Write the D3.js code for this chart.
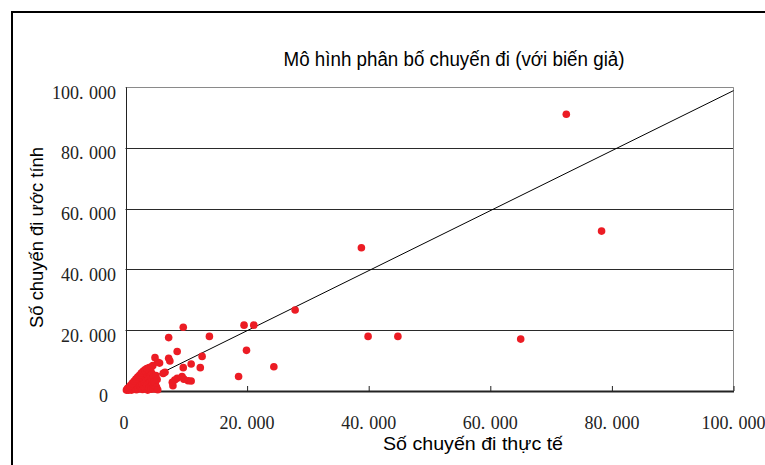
<!DOCTYPE html>
<html>
<head>
<meta charset="utf-8">
<script src="https://cdn.jsdelivr.net/npm/d3@7"></script>
<style>
  html, body { margin: 0; padding: 0; background: #fff; }
  svg { display: block; }
</style>
</head>
<body>
<svg id="chart" width="765" height="465"></svg>
<script>
// Chart text
const chartTitle = "Mô hình phân bố chuyến đi (với biến giả)";
const xTitle = "Số chuyến đi thực tế";
const yTitle = "Số chuyến đi ước tính";

// Axis ticks (same for both axes)
const tickValues = [0, 20000, 40000, 60000, 80000, 100000];

// Reference line: estimated = fitted slope × actual
const refLineX = [0, 100000];
const refLineY = [0, 98900];

// Observed trips (actual) and model estimates, one pair per zone pair
const actualTrips = [
  72500, 78300, 38800, 65000, 39900, 44800, 27900, 21100, 19500, 19900,
  18600, 24400, 9500, 13800, 7100,
  8500, 12600, 10800, 12300, 7100, 7300, 4850, 5300, 6500, 9500,
  9300, 8500, 10300, 7800, 8100, 9600, 10800, 6200, 5600, 7700, 4500,
  150, 300, 450, 600, 700, 850, 950, 1000, 1150, 1250,
  1300, 1450, 1550, 1600, 1700, 1800, 1850, 1950, 2050, 2100,
  2200, 2300, 2350, 2450, 2500, 2600, 2650, 2750, 2800, 2900,
  2950, 3000, 3100, 3150, 3250, 3300, 3400, 3450, 3500, 3600,
  3650, 3700, 3800, 3850, 3900, 4000, 4050, 4150, 4200, 4250,
  4300, 4400, 4450, 4550, 4600, 4700, 4750, 4850, 4900, 5000,
  5100, 5200, 5300, 400, 800, 1100, 1400, 1700, 2000, 2300,
  2600, 2900, 3200, 3500, 3900, 4300
];
const estimatedTrips = [
  91100, 52600, 47100, 17000, 17900, 17900, 26600, 21600, 21600, 13300,
  4700, 7900, 20900, 17900, 17500,
  12900, 11300, 8800, 7600, 10700, 9800, 10900, 9400, 6100, 7600,
  4700, 4100, 3300, 1650, 3500, 3800, 3200, 5700, 9100, 2800, 8300,
  200, 600, 150, 900, 400, 1400, 700, 200, 1900, 1100,
  500, 2400, 1600, 800, 2900, 300, 2100, 3400, 1300, 600,
  3800, 2600, 1700, 4300, 900, 3100, 5000, 2000, 400, 5600,
  3600, 1200, 6200, 2700, 4400, 700, 6700, 3300, 1800, 5400,
  200, 7200, 4000, 2400, 1000, 6300, 3000, 4800, 1500, 500,
  5800, 3600, 2200, 900, 4600, 1700, 3000, 600, 2300, 5000,
  1200, 3700, 300, 900, 1700, 2400, 3100, 3800, 4500, 5100,
  5800, 6400, 6900, 7300, 7600, 7900
];

const svg = d3.select("#chart");

// Outer chart frame
svg.append("path")
  .attr("d", "M12,470V12H770")
  .attr("fill", "none")
  .attr("stroke", "#000")
  .attr("stroke-width", 2);

const x = d3.scaleLinear().domain([0, 100000]).range([125.5, 733.5]);
const y = d3.scaleLinear().domain([0, 100000]).range([390.7, 87.3]);

const locale = d3.formatLocale({ decimal: ",", thousands: ".", grouping: [3], currency: ["", ""] });
const fmt = locale.format(",");

// Writes "20.000" as "20." + spaced "000", like the wide period of the original font
function tickText(sel) {
  sel.each(function (d) {
    const s = fmt(d);
    const t = d3.select(this);
    const i = s.indexOf(".");
    if (i < 0) { t.text(s); return; }
    t.append("tspan").text(s.slice(0, i + 1));
    t.append("tspan").attr("dx", 5.5).text(s.slice(i + 1));
  });
}

// Horizontal gridlines
svg.append("g")
  .selectAll("line")
  .data(tickValues.filter(v => v > 0))
  .join("line")
  .attr("x1", x(0)).attr("x2", x(100000))
  .attr("y1", d => Math.round(y(d)) + 0.5).attr("y2", d => Math.round(y(d)) + 0.5)
  .attr("stroke", d => d === 100000 ? "#8a8a8a" : "#2a2a2a")
  .attr("stroke-width", 1);

// Right edge of plot area
svg.append("line")
  .attr("x1", Math.round(x(100000)) - 0.5).attr("x2", Math.round(x(100000)) - 0.5)
  .attr("y1", y(100000)).attr("y2", y(0))
  .attr("stroke", "#8a8a8a");

// Left axis line (no ticks)
svg.append("line")
  .attr("x1", Math.round(x(0)) + 0.5).attr("x2", Math.round(x(0)) + 0.5)
  .attr("y1", y(100000)).attr("y2", y(0))
  .attr("stroke", "#222");

// Bottom axis with inward ticks
const xAxis = d3.axisBottom(x).tickValues(tickValues.filter(v => v > 0)).tickSizeInner(-5).tickSizeOuter(0).tickFormat("");
const gx = svg.append("g").attr("transform", `translate(0,${Math.round(y(0))})`).call(xAxis);
gx.select(".domain").attr("stroke", "#222").attr("stroke-width", 2);
gx.selectAll(".tick line").attr("stroke", "#222");

// Tick labels
const labelFont = "'Liberation Serif', 'DejaVu Serif', serif";
svg.append("g")
  .selectAll("text")
  .data(tickValues)
  .join("text")
  .attr("x", d => x(d) - (d === 0 ? 1.5 : 0))
  .attr("y", 429)
  .attr("text-anchor", "middle")
  .attr("font-family", labelFont)
  .attr("font-size", 18)
  .attr("fill", "#222")
  .call(tickText);

svg.append("g")
  .selectAll("text")
  .data(tickValues)
  .join("text")
  .attr("x", d => d === 0 ? 108 : 116)
  .attr("y", d => y(d) + 11.5)
  .attr("text-anchor", "end")
  .attr("font-family", labelFont)
  .attr("font-size", 18)
  .attr("fill", "#222")
  .call(tickText);

// Fitted reference line
svg.append("line")
  .attr("x1", x(refLineX[0])).attr("y1", y(refLineY[0]))
  .attr("x2", x(refLineX[1])).attr("y2", y(refLineY[1]))
  .attr("stroke", "#000")
  .attr("stroke-width", 1);

// Points
const points = actualTrips.map((a, i) => ({ a, e: estimatedTrips[i] }));
svg.append("g")
  .selectAll("circle")
  .data(points)
  .join("circle")
  .attr("cx", d => x(d.a))
  .attr("cy", d => y(d.e))
  .attr("r", 3.8)
  .attr("fill", "#ec1c24");

// Titles
const sans = "'Liberation Sans', Arial, sans-serif";
svg.append("text")
  .attr("x", 454).attr("y", 66)
  .attr("text-anchor", "middle")
  .attr("font-family", sans).attr("font-size", 20)
  .attr("textLength", 341).attr("lengthAdjust", "spacingAndGlyphs")
  .attr("fill", "#000")
  .text(chartTitle);

svg.append("text")
  .attr("x", 473).attr("y", 450)
  .attr("text-anchor", "middle")
  .attr("font-family", sans).attr("font-size", 18.5)
  .attr("textLength", 180).attr("lengthAdjust", "spacingAndGlyphs")
  .attr("fill", "#000")
  .text(xTitle);

svg.append("text")
  .attr("transform", "translate(43,237.5) rotate(-90)")
  .attr("text-anchor", "middle")
  .attr("font-family", sans).attr("font-size", 18.5)
  .attr("textLength", 181).attr("lengthAdjust", "spacingAndGlyphs")
  .attr("fill", "#000")
  .text(yTitle);
</script>
</body>
</html>
